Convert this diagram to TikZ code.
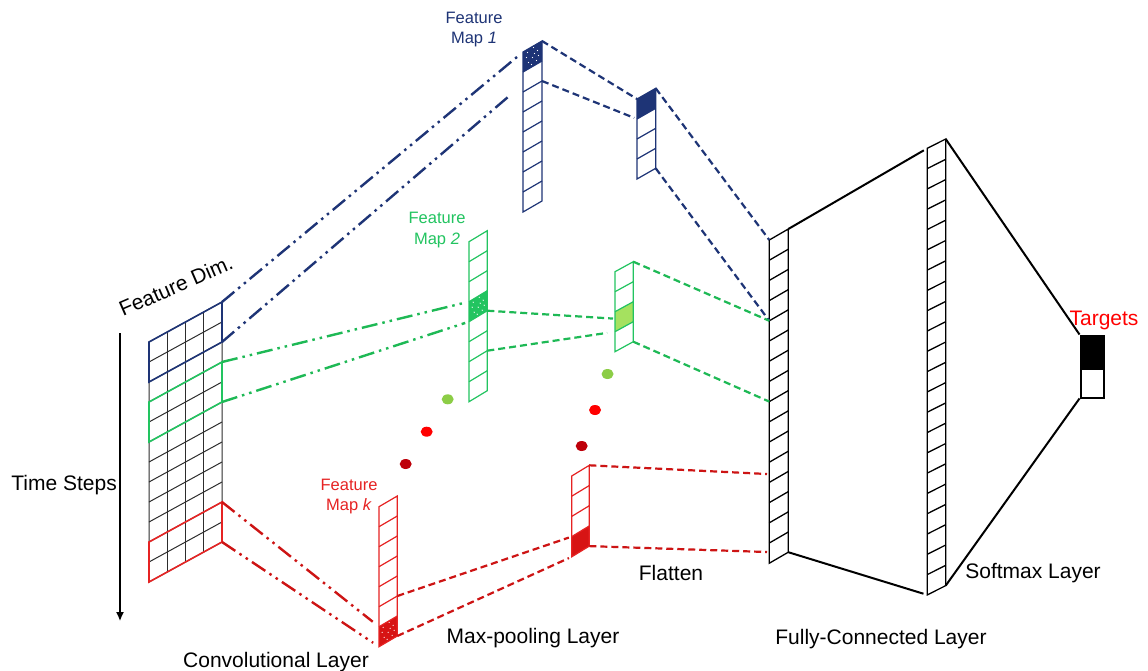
\documentclass[tikz,border=0pt]{standalone}
\usepackage{fontspec}
\setmainfont{Liberation Sans}
\usetikzlibrary{calc,shapes.geometric,arrows.meta}
\definecolor{fmblue}{RGB}{30,52,118}
\definecolor{fmgreen}{RGB}{34,196,96}
\definecolor{fmgreenline}{RGB}{30,185,85}
\definecolor{lightfill}{RGB}{165,225,95}
\definecolor{dotgreen}{RGB}{140,205,70}
\definecolor{fmred}{RGB}{230,35,35}
\definecolor{fmredline}{RGB}{205,20,20}
\definecolor{fmredfill}{RGB}{215,20,20}
\definecolor{dotred}{RGB}{255,0,0}
\definecolor{dotdark}{RGB}{190,0,10}
\definecolor{gridgray}{RGB}{45,45,45}
\newcommand\skewcol[7]{% name, L, T, w, s, n, h
  \foreach \i in {0,...,#6}{
    \coordinate (#1-l\i) at (#2,{#3+\i*#7});
    \coordinate (#1-r\i) at ({#2+#4},{#3-#5+\i*#7});
  }
}
\newcommand\drawcol[3]{% name, n, style
  \draw[#3] (#1-l0) -- (#1-r0) -- (#1-r#2) -- (#1-l#2) -- cycle;
  \pgfmathtruncatemacro\lastrow{#2-1}
  \foreach \i in {1,...,\lastrow}{\draw[#3] (#1-l\i) -- (#1-r\i);}
}
\newcommand\fillcell[4]{% name, k, k+1, colour
  \fill[#4] (#1-l#2) -- (#1-r#2) -- (#1-r#3) -- (#1-l#3) -- cycle;
}
\newcommand\speckle[3]{% name, k, k+1
  \coordinate (sc) at ($(#1-l#2)!0.5!(#1-r#3)$);
  \foreach \dx/\dy in {-5/-4,0/1,5/-6,4/4,-4/6,1/-9,-6/1,6/-1,-1/8,2/-3}
    {\fill[white] ($(sc)+(\dx,\dy)$) circle (0.65pt);}
}
\tikzset{
  colline/.style={line width=1.2pt},
  dashdotdot/.style={line width=2.4pt, dash pattern=on 16pt off 5pt on 2.5pt off 5pt on 2.5pt off 5pt},
  dashln/.style={line width=2.2pt, dash pattern=on 7pt off 4pt},
  solidln/.style={line width=2pt},
  lbl/.style={inner sep=0pt, font=\fontsize{21}{25}\selectfont},
  fmlbl/.style={inner sep=0pt, align=center, font=\fontsize{16.5}{20.5}\selectfont},
  dotnode/.style={ellipse, inner sep=0pt, minimum width=12pt, minimum height=10pt}
}
\begin{document}
\begin{tikzpicture}[x=1pt,y=-1pt]
\useasboundingbox (0,0) rectangle (1148,670);
\fill[white] (0,0) rectangle (1148,670);

% ---------- geometry ----------
\skewcol{conv}{149}{342}{73}{40}{12}{20}
\skewcol{fmA}{523}{52}{19}{11}{8}{20}
\skewcol{poolA}{637}{99}{18.7}{10.7}{4}{20}
\skewcol{fmB}{469}{241.7}{18.3}{11}{8}{20}
\skewcol{poolB}{615}{271.7}{18.3}{10}{4}{20}
\skewcol{fmK}{379}{506.7}{18.3}{10.7}{7}{20}
\skewcol{poolK}{571.7}{476}{17.6}{10.7}{4}{20.2}
\skewcol{fc}{769.3}{240}{19}{11}{16}{20.2}
\skewcol{sm}{927.3}{148.3}{18.4}{9.3}{22}{20.3}

% ---------- convolution grid ----------
\foreach \j in {1,2,3}{
  \draw[gridgray, line width=1pt] ({149+\j*18.25},{342-\j*10}) -- ({149+\j*18.25},{582-\j*10});
}
\drawcol{conv}{12}{gridgray, line width=1pt}
\draw[fmblue, line width=1.6pt] (conv-l0) -- (conv-r0) -- (conv-r2) -- (conv-l2) -- cycle;
\draw[fmgreen, line width=1.6pt] (conv-l3) -- (conv-r3) -- (conv-r5) -- (conv-l5) -- cycle;
\draw[fmred, line width=1.6pt] (conv-l10) -- (conv-r10) -- (conv-r12) -- (conv-l12) -- cycle;

% ---------- feature maps ----------
\fillcell{fmA}{0}{1}{fmblue}
\speckle{fmA}{0}{1}
\drawcol{fmA}{8}{fmblue, colline}
\fillcell{poolA}{0}{1}{fmblue}
\drawcol{poolA}{4}{fmblue, colline}

\fillcell{fmB}{3}{4}{fmgreen}
\speckle{fmB}{3}{4}
\drawcol{fmB}{8}{fmgreen, colline}
\fillcell{poolB}{2}{3}{lightfill}
\drawcol{poolB}{4}{fmgreen, colline}

\fillcell{fmK}{6}{7}{fmredfill}
\speckle{fmK}{6}{7}
\drawcol{fmK}{7}{fmred, colline}
\fillcell{poolK}{3}{4}{fmredfill}
\drawcol{poolK}{4}{fmred, colline}

% ---------- dense layers ----------
\drawcol{fc}{16}{black, line width=1.3pt}
\drawcol{sm}{22}{black, line width=1.3pt}
\node[draw=black, fill=black, line width=2pt, minimum width=23.5pt, minimum height=33pt, inner sep=0pt, anchor=north west] (tgB) at (1079.5,334.5) {};
\node[draw=black, line width=2pt, minimum width=23.5pt, minimum height=62pt, inner sep=0pt, anchor=north west] (tg) at (1079.5,334.5) {};

% ---------- free ends ----------
\coordinate (bEnd) at (508,97);
\coordinate (gEnd) at ($(poolB-l2)!0.35!(poolB-l3)$);
\coordinate (rEndA) at (767,474);
\coordinate (rEndB) at (767,552);

% ---------- connectors: conv -> feature maps ----------
\draw[fmblue, dashdotdot, shorten >=3pt] (conv-r0) -- (fmA-l0);
\draw[fmblue, dashdotdot] (conv-r2) -- (bEnd);
\draw[fmgreenline, dashdotdot, shorten >=5pt] (conv-r3) -- (fmB-l3);
\draw[fmgreenline, dashdotdot, shorten >=4pt] (conv-r5) -- (fmB-l4);
\draw[fmredline, dashdotdot, shorten >=8pt] (conv-r10) -- (fmK-l6);
\draw[fmredline, dashdotdot, shorten >=7pt] (conv-r12) -- (fmK-l7);

% ---------- feature maps -> pooling ----------
\draw[fmblue, dashln] (fmA-r0) -- (poolA-l0);
\draw[fmblue, dashln, shorten >=3pt] (fmA-r2) -- (poolA-l1);
\draw[fmgreenline, dashln, shorten >=2pt] (fmB-r4) -- (gEnd);
\draw[fmgreenline, dashln, shorten >=8pt] (fmB-r6) -- (poolB-l3);
\draw[fmredline, dashln, shorten >=3pt] (fmK-r5) -- (poolK-l3);
\draw[fmredline, dashln, shorten >=3pt] (fmK-r7) -- (poolK-l4);

% ---------- pooling -> flatten ----------
\draw[fmblue, dashln] (poolA-r0) -- (fc-l0);
\draw[fmblue, dashln] (poolA-r4) -- (fc-l4);
\draw[fmgreenline, dashln] (poolB-r0) -- (fc-l4);
\draw[fmgreenline, dashln] (poolB-r4) -- (fc-l8);
\draw[fmredline, dashln] (poolK-r0) -- (rEndA);
\draw[fmredline, dashln] (poolK-r4) -- (rEndB);

% ---------- dense connections ----------
\draw[black, solidln, shorten >=4pt] (fc-r0) -- (sm-l0);
\draw[black, solidln, shorten >=4pt] (fc-r16) -- (sm-l22);
\draw[black, solidln] (sm-r0) -- (tg.north west);
\draw[black, solidln] (sm-r22) -- (tg.south west);

% ---------- dots ----------
\node[dotnode, fill=dotgreen] (d1) at (447.7,399.3) {};
\node[dotnode, fill=dotred] (d2) at (426.7,431.7) {};
\node[dotnode, fill=dotdark] (d3) at (405.7,464) {};
\node[dotnode, fill=dotgreen] (d4) at (607.5,374) {};
\node[dotnode, fill=dotred] (d5) at (595,410) {};
\node[dotnode, fill=dotdark] (d6) at (581.7,446) {};

% ---------- time axis ----------
\coordinate (tTop) at (120,333);
\coordinate (tBot) at (120,621);
\draw[black, line width=1.3pt, -{Latex[length=9pt,width=8pt]}] (tTop) -- (tBot);

% ---------- labels ----------
\node[lbl, anchor=base east] (tsl) at (117,490.5) {Time Steps};
\node[lbl, anchor=base west, rotate=23.5] (fdl) at (123,317) {Feature Dim.};
\node[lbl, anchor=base] (cvl) at (276,667) {Convolutional Layer};
\node[lbl, anchor=base] (mpl) at (533,643) {Max-pooling Layer};
\node[lbl, anchor=base] (fll) at (671,580) {Flatten};
\node[lbl, anchor=base] (fcl) at (881,644) {Fully-Connected Layer};
\node[lbl, anchor=base] (sml) at (1033,578) {Softmax Layer};
\node[lbl, anchor=base, text=dotred] (tgl) at (1104,325) {Targets};
\node[fmlbl, text=fmblue] (fm1l) at (474,29.5) {Feature\\Map \textit{1}};
\node[fmlbl, text=fmgreen] (fm2l) at (437,230) {Feature\\Map \textit{2}};
\node[fmlbl, text=fmred] (fmkl) at (349,496.5) {Feature\\Map \textit{k}};
\end{tikzpicture}
\end{document}
